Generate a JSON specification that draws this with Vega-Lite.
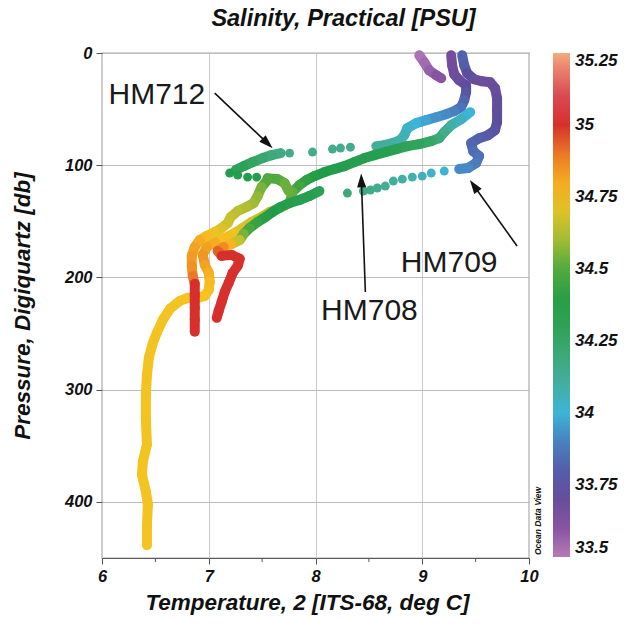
{
 "$schema": "https://vega.github.io/schema/vega-lite/v6.json",
 "width": 427, "height": 505,
 "autosize": "none",
 "padding": {"left": 102, "top": 53, "right": 98, "bottom": 73},
 "background": "white",
 "title": {"text": "Salinity, Practical [PSU]", "font": "Liberation Sans", "fontSize": 23.5, "fontWeight": "bold", "fontStyle": "italic", "color": "#111", "anchor": "middle", "frame": "group", "dx": 28, "offset": 15},
 "datasets": {
  "bands": [
   {"c":"P","t":8.972,"p":2.0,"s":33.52},{"c":"P","t":9.019,"p":8.3,"s":33.54},{"c":"P","t":9.065,"p":15.4,"s":33.57},{"c":"P","t":9.131,"p":19.8,"s":33.6},{"c":"P","t":9.178,"p":22.5,"s":33.62},
   {"c":"R","t":9.374,"p":2.0,"s":33.82},{"c":"R","t":9.393,"p":10.9,"s":33.8},{"c":"R","t":9.421,"p":18.1,"s":33.75},{"c":"R","t":9.486,"p":23.4,"s":33.7},{"c":"R","t":9.561,"p":25.2,"s":33.68},{"c":"R","t":9.636,"p":26.1,"s":33.68},{"c":"R","t":9.682,"p":31.4,"s":33.7},{"c":"R","t":9.701,"p":40.3,"s":33.72},{"c":"R","t":9.701,"p":51.0,"s":33.73},{"c":"R","t":9.701,"p":61.6,"s":33.75},{"c":"R","t":9.682,"p":68.7,"s":33.77},{"c":"R","t":9.617,"p":73.2,"s":33.79},{"c":"R","t":9.533,"p":75.9,"s":33.81},{"c":"R","t":9.458,"p":80.3,"s":33.83},{"c":"R","t":9.477,"p":87.4,"s":33.85},{"c":"R","t":9.533,"p":91.9,"s":33.87},{"c":"R","t":9.505,"p":98.1,"s":33.89},{"c":"R","t":9.43,"p":102.5,"s":33.92},{"c":"R","t":9.346,"p":103.4,"s":33.95},
   {"c":"Q","t":9.271,"p":2.0,"s":33.64},{"c":"Q","t":9.28,"p":10.9,"s":33.65},{"c":"Q","t":9.299,"p":18.9,"s":33.67},{"c":"Q","t":9.346,"p":24.3,"s":33.7},{"c":"Q","t":9.411,"p":28.7,"s":33.74},{"c":"Q","t":9.411,"p":34.9,"s":33.78},{"c":"Q","t":9.393,"p":42.1,"s":33.83},{"c":"Q","t":9.364,"p":48.3,"s":33.87},{"c":"Q","t":9.299,"p":51.8,"s":33.9},{"c":"Q","t":9.224,"p":54.5,"s":33.92},{"c":"Q","t":9.131,"p":57.2,"s":33.94},{"c":"Q","t":9.037,"p":59.8,"s":33.97},{"c":"Q","t":8.944,"p":62.5,"s":34.0},{"c":"Q","t":8.86,"p":67.0,"s":34.03},{"c":"Q","t":8.832,"p":73.2,"s":34.06},{"c":"Q","t":8.794,"p":77.6,"s":34.08},{"c":"Q","t":8.72,"p":80.3,"s":34.1},{"c":"Q","t":8.645,"p":82.1,"s":34.12},{"c":"Q","t":8.57,"p":83.0,"s":34.14},
   {"c":"Q2","t":7.673,"p":89.2,"s":34.17},{"c":"Q2","t":7.589,"p":91.0,"s":34.2},{"c":"Q2","t":7.505,"p":93.6,"s":34.23},{"c":"Q2","t":7.411,"p":97.2,"s":34.27},{"c":"Q2","t":7.327,"p":100.8,"s":34.3},{"c":"Q2","t":7.252,"p":104.3,"s":34.33},
   {"c":"S","t":9.449,"p":52.7,"s":34.0},{"c":"S","t":9.364,"p":59.0,"s":34.05},{"c":"S","t":9.271,"p":64.3,"s":34.1},{"c":"S","t":9.206,"p":70.5,"s":34.15},{"c":"S","t":9.159,"p":75.9,"s":34.2},{"c":"S","t":9.084,"p":78.5,"s":34.25},{"c":"S","t":8.972,"p":81.2,"s":34.28},{"c":"S","t":8.86,"p":83.0,"s":34.3},{"c":"S","t":8.757,"p":85.6,"s":34.32},{"c":"S","t":8.654,"p":88.3,"s":34.33},{"c":"S","t":8.551,"p":91.0,"s":34.34},{"c":"S","t":8.458,"p":93.6,"s":34.34},{"c":"S","t":8.364,"p":97.2,"s":34.34},{"c":"S","t":8.271,"p":100.8,"s":34.35},{"c":"S","t":8.178,"p":103.4,"s":34.35},{"c":"S","t":8.084,"p":106.1,"s":34.37},{"c":"S","t":7.991,"p":109.7,"s":34.39},{"c":"S","t":7.916,"p":113.2,"s":34.42},{"c":"S","t":7.85,"p":117.7,"s":34.46},{"c":"S","t":7.785,"p":123.9,"s":34.52},{"c":"S","t":7.757,"p":133.7,"s":34.6},{"c":"S","t":7.664,"p":138.1,"s":34.62},{"c":"S","t":7.57,"p":141.7,"s":34.63},{"c":"S","t":7.495,"p":146.1,"s":34.65},{"c":"S","t":7.402,"p":150.6,"s":34.68},{"c":"S","t":7.318,"p":155.9,"s":34.7},{"c":"S","t":7.243,"p":160.4,"s":34.73},{"c":"S","t":7.15,"p":164.8,"s":34.76},{"c":"S","t":7.056,"p":168.4,"s":34.8},{"c":"S","t":6.981,"p":172.8,"s":34.83},{"c":"S","t":6.944,"p":179.9,"s":34.85},{"c":"S","t":6.963,"p":188.8,"s":34.82},{"c":"S","t":7.0,"p":195.9,"s":34.79},{"c":"S","t":7.009,"p":203.9,"s":34.77},{"c":"S","t":7.0,"p":211.1,"s":34.76},{"c":"S","t":6.963,"p":216.4,"s":34.75},{"c":"S","t":6.897,"p":218.2,"s":34.74},{"c":"S","t":6.804,"p":218.2,"s":34.74},{"c":"S","t":6.729,"p":220.9,"s":34.74},{"c":"S","t":6.636,"p":228.0,"s":34.74},{"c":"S","t":6.57,"p":237.7,"s":34.74},{"c":"S","t":6.514,"p":249.3,"s":34.74},{"c":"S","t":6.477,"p":258.2,"s":34.74},{"c":"S","t":6.439,"p":271.5,"s":34.74},{"c":"S","t":6.421,"p":286.6,"s":34.74},{"c":"S","t":6.411,"p":304.4,"s":34.74},{"c":"S","t":6.411,"p":326.6,"s":34.74},{"c":"S","t":6.421,"p":348.9,"s":34.74},{"c":"S","t":6.383,"p":364.0,"s":34.74},{"c":"S","t":6.374,"p":375.6,"s":34.74},{"c":"S","t":6.411,"p":390.8,"s":34.74},{"c":"S","t":6.43,"p":402.2,"s":34.74},{"c":"S","t":6.421,"p":420.0,"s":34.74},{"c":"S","t":6.421,"p":438.7,"s":34.74},
   {"c":"C","t":8.037,"p":123.0,"s":34.32},{"c":"C","t":7.944,"p":127.4,"s":34.33},{"c":"C","t":7.85,"p":131.0,"s":34.33},{"c":"C","t":7.757,"p":133.7,"s":34.34},{"c":"C","t":7.673,"p":137.2,"s":34.35},{"c":"C","t":7.598,"p":141.7,"s":34.37},{"c":"C","t":7.533,"p":146.1,"s":34.4},{"c":"C","t":7.458,"p":150.6,"s":34.43},{"c":"C","t":7.383,"p":155.9,"s":34.48},{"c":"C","t":7.327,"p":161.3,"s":34.55},{"c":"C","t":7.29,"p":166.6,"s":34.65},{"c":"C","t":7.215,"p":170.2,"s":34.78},{"c":"C","t":7.14,"p":172.8,"s":34.87},{"c":"C","t":7.084,"p":176.4,"s":34.93},{"c":"C","t":7.121,"p":180.8,"s":35.0},{"c":"C","t":7.215,"p":179.9,"s":35.0},{"c":"C","t":7.29,"p":183.4,"s":35.0},{"c":"C","t":7.271,"p":189.7,"s":35.0},{"c":"C","t":7.224,"p":195.9,"s":35.0},{"c":"C","t":7.187,"p":204.8,"s":35.0},{"c":"C","t":7.15,"p":212.8,"s":35.0},{"c":"C","t":7.121,"p":221.7,"s":35.0},{"c":"C","t":7.093,"p":229.8,"s":35.0},{"c":"C","t":7.075,"p":236.0,"s":35.0},
   {"c":"B0","t":7.551,"p":111.5,"s":34.48},{"c":"B0","t":7.645,"p":112.4,"s":34.5},{"c":"B0","t":7.71,"p":115.9,"s":34.53},{"c":"B0","t":7.748,"p":123.0,"s":34.56},
   {"c":"B","t":7.551,"p":113.2,"s":34.5},{"c":"B","t":7.495,"p":119.4,"s":34.55},{"c":"B","t":7.458,"p":127.4,"s":34.58},{"c":"B","t":7.421,"p":133.7,"s":34.6},{"c":"B","t":7.355,"p":137.2,"s":34.62},{"c":"B","t":7.271,"p":140.8,"s":34.64},{"c":"B","t":7.206,"p":146.1,"s":34.66},{"c":"B","t":7.178,"p":151.5,"s":34.68},{"c":"B","t":7.121,"p":155.9,"s":34.7},{"c":"B","t":7.056,"p":159.5,"s":34.73},{"c":"B","t":6.981,"p":163.0,"s":34.77},{"c":"B","t":6.916,"p":166.6,"s":34.8},{"c":"B","t":6.869,"p":172.8,"s":34.82},{"c":"B","t":6.841,"p":180.8,"s":34.84},{"c":"B","t":6.841,"p":189.7,"s":34.86},{"c":"B","t":6.85,"p":198.6,"s":34.9},{"c":"B","t":6.869,"p":205.7,"s":35.0},{"c":"B","t":6.869,"p":215.5,"s":35.0},{"c":"B","t":6.869,"p":227.1,"s":35.0},{"c":"B","t":6.869,"p":237.7,"s":35.0},{"c":"B","t":6.869,"p":248.4,"s":35.0}
  ],
  "dots": [
   {"t":7.757,"p":89.2,"s":34.16},{"t":7.972,"p":88.3,"s":34.15},{"t":8.159,"p":85.6,"s":34.15},{"t":8.234,"p":84.7,"s":34.15},{"t":8.327,"p":83.9,"s":34.15},
   {"t":7.196,"p":107.0,"s":34.35},{"t":7.271,"p":108.8,"s":34.35},{"t":7.364,"p":110.6,"s":34.35},{"t":7.449,"p":110.6,"s":34.35},
   {"t":9.206,"p":105.2,"s":34.0},{"t":9.084,"p":107.0,"s":34.03},{"t":9.0,"p":109.7,"s":34.05},{"t":8.907,"p":110.6,"s":34.08},{"t":8.813,"p":112.4,"s":34.1},{"t":8.729,"p":114.1,"s":34.11},{"t":8.654,"p":118.6,"s":34.13},{"t":8.579,"p":120.3,"s":34.14},{"t":8.514,"p":122.1,"s":34.16},{"t":8.449,"p":123.0,"s":34.17},{"t":8.299,"p":124.8,"s":34.2}
  ],
  "arrows": [
   {"t":7.056,"p":35.8,"t2":7.551,"p2":80.5},
   {"t":8.467,"p":212.9,"t2":8.43,"p2":113.5},
   {"t":9.888,"p":171.9,"t2":9.484,"p2":118.3}
  ],
  "tips": [
   {"t":7.551,"p":80.5,"a":133.6},
   {"t":8.43,"p":113.5,"a":-2.1},
   {"t":9.484,"p":118.3,"a":-35.6}
  ],
  "minor": [
   {"t":6.5,"p":450,"p2":453.5},{"t":7.5,"p":450,"p2":453.5},{"t":8.5,"p":450,"p2":453.5},{"t":9.5,"p":450,"p2":453.5}
  ],
  "notes": [
   {"t":6.514,"p":45.6,"label":"HM712"},
   {"t":8.505,"p":237.7,"label":"HM708"},
   {"t":9.252,"p":195.0,"label":"HM709"}
  ]
 },
 "encoding": {
  "x": {"field": "t", "type": "quantitative", "scale": {"domain": [6, 10], "nice": false, "zero": false},
        "axis": {"title": "Temperature, 2 [ITS-68, deg C]", "values": [6, 7, 8, 9, 10], "labelFlush": false, "grid": true, "gridColor": "#cccccc", "tickSize": 6, "labelPadding": 4, "titlePadding": 7, "titleX": 205}},
  "y": {"field": "p", "type": "quantitative", "scale": {"domain": [0, 450], "reverse": true, "nice": false, "zero": false},
        "axis": {"title": "Pressure, Digiquartz [db]", "values": [0, 100, 200, 300, 400], "labelFlush": false, "grid": true, "gridColor": "#bdbdbd", "tickSize": 6, "labelPadding": 4, "titleX": -68}}
 },
 "layer": [
  {"data": {"name": "bands"},
   "transform": [
    {"window": [{"op": "lead", "field": "t", "as": "t2"}, {"op": "lead", "field": "p", "as": "p2"}], "groupby": ["c"]},
    {"filter": "datum.t2 != null"}
   ],
   "mark": {"type": "rule", "strokeWidth": 10, "strokeCap": "round"},
   "encoding": {
    "x2": {"field": "t2"}, "y2": {"field": "p2"},
    "stroke": {"field": "s", "type": "quantitative", "legend": null,
     "scale": {"domain": [33.4999,33.625,33.75,33.875,34,34.125,34.25,34.375,34.5,34.625,34.75,34.875,35,35.125,35.2501],
               "range": ["#b67ab6","#7c4b9c","#5a4e9d","#4c74bb","#3cb4d6","#45ad96","#36a664","#1f9b47","#52aa3e","#b4c032","#f8c31f","#ef8a24","#d7302c","#d94f5b","#f5aa7c"],
               "interpolate": "rgb"}}
   }},
  {"data": {"name": "dots"},
   "mark": {"type": "circle", "size": 80, "opacity": 1},
   "encoding": {"color": {"field": "s", "type": "quantitative",
     "scale": {"domain": [33.5,33.625,33.75,33.875,34,34.125,34.25,34.375,34.5,34.625,34.75,34.875,35,35.125,35.25],
               "range": ["#b67ab6","#7c4b9c","#5a4e9d","#4c74bb","#3cb4d6","#45ad96","#36a664","#1f9b47","#52aa3e","#b4c032","#f8c31f","#ef8a24","#d7302c","#d94f5b","#f5aa7c"],
               "interpolate": "rgb"},
     "legend": {"type": "gradient", "orient": "none", "legendX": 451, "legendY": 0, "direction": "vertical", "gradientLength": 504, "gradientThickness": 17, "title": null,
                "values": [33.5,33.75,34,34.25,34.5,34.75,35,35.25], "format": ".4~g", "labelOffset": 5, "labelBaseline": "middle", "labelOverlap": false, "padding": 0, "gradientStrokeWidth": 0}}}},
  {"data": {"name": "minor"},
   "mark": {"type": "rule", "color": "#555", "strokeWidth": 1, "clip": false},
   "encoding": {"y2": {"field": "p2"}}},
  {"data": {"name": "arrows"},
   "mark": {"type": "rule", "color": "#111", "strokeWidth": 1.6},
   "encoding": {"x2": {"field": "t2"}, "y2": {"field": "p2"}}},
  {"data": {"name": "tips"},
   "mark": {"type": "point", "shape": "M0,-1L0.65,1L-0.65,1Z", "size": 196, "filled": true, "color": "#111", "opacity": 1},
   "encoding": {"angle": {"field": "a", "type": "quantitative", "scale": null}}},
  {"data": {"name": "notes"},
   "mark": {"type": "text", "font": "Liberation Sans", "fontSize": 30, "align": "center", "baseline": "alphabetic", "color": "#1a1a1a"},
   "encoding": {"text": {"field": "label"}}},
  {"data": {"values": [{"t": 10, "p": 450, "label": "Ocean Data View"}]},
   "mark": {"type": "text", "font": "Liberation Sans", "fontSize": 8.5, "fontWeight": "bold", "fontStyle": "italic", "angle": 270, "align": "left", "baseline": "middle", "dx": 3, "dy": 9, "color": "#111"},
   "encoding": {"text": {"field": "label"}}}
 ],
 "config": {
  "view": {"stroke": "#5a5a5a", "strokeWidth": 1.2},
  "axis": {"labelFont": "Liberation Sans", "labelFontSize": 16.5, "labelFontWeight": "bold", "labelFontStyle": "italic", "labelColor": "#111",
           "titleFont": "Liberation Sans", "titleFontSize": 22.5, "titleFontWeight": "bold", "titleFontStyle": "italic", "titleColor": "#111",
           "domain": false, "tickColor": "#555", "gridWidth": 1},
  "legend": {"labelFont": "Liberation Sans", "labelFontSize": 17, "labelFontWeight": "bold", "labelFontStyle": "italic", "labelColor": "#111",
             "gradientLength": 504, "gradientThickness": 17, "padding": 0, "labelOverlap": false}
 }
}
